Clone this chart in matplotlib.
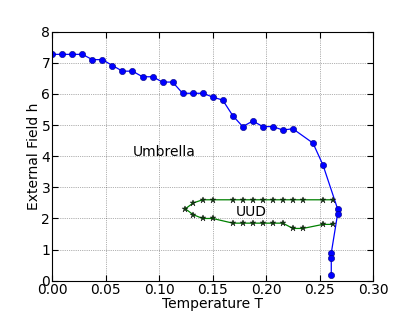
import numpy as np
import matplotlib
matplotlib.use('Agg')
import matplotlib.pyplot as plt

# phase boundary (blue)
T_boundary = [0.0, 0.0094, 0.0188, 0.0281, 0.0375, 0.0469, 0.0563, 0.0656,
              0.075, 0.0844, 0.0938, 0.1031, 0.1125, 0.1219, 0.1313, 0.1406,
              0.15, 0.1594, 0.1688, 0.1781, 0.1875, 0.1969, 0.2063, 0.2156,
              0.225, 0.2438, 0.2531, 0.2668, 0.2668, 0.2609, 0.2609, 0.2609]
h_boundary = [7.27, 7.27, 7.27, 7.27, 7.10, 7.10, 6.91, 6.73,
              6.73, 6.55, 6.55, 6.38, 6.38, 6.02, 6.02, 6.02,
              5.90, 5.80, 5.30, 4.95, 5.13, 4.95, 4.95, 4.84,
              4.88, 4.42, 3.72, 2.31, 2.14, 0.89, 0.72, 0.18]

# UUD region (green), upper branch right->left, tip, lower branch left->right
T_uud = [0.2625, 0.2531, 0.2344, 0.225, 0.2156, 0.2063, 0.1969, 0.1875,
         0.1781, 0.1688, 0.15, 0.1406, 0.1319, 0.1244, 0.1319, 0.1406,
         0.15, 0.1688, 0.1781, 0.1875, 0.1969, 0.2063, 0.2156, 0.225,
         0.2344, 0.2531, 0.2625]
h_uud = [2.60, 2.60, 2.60, 2.60, 2.60, 2.60, 2.60, 2.60,
         2.60, 2.60, 2.60, 2.60, 2.50, 2.31, 2.12, 2.00,
         2.00, 1.85, 1.85, 1.85, 1.85, 1.85, 1.85, 1.68,
         1.68, 1.81, 1.81]

fig = plt.figure(figsize=(4.15, 3.13), dpi=100)
ax = fig.add_axes([0.126, 0.103, 0.773, 0.796])

ax.plot(T_boundary, h_boundary, '-o', color='blue', lw=0.9,
        markersize=4.5, markeredgecolor='#000080', markeredgewidth=0.4)
ax.plot(T_uud, h_uud, '-*', color='green', lw=0.9,
        markersize=4.5, markerfacecolor='#104010', markeredgecolor='black',
        markeredgewidth=0.3)

ax.text(0.105, 4.13, 'Umbrella', fontsize=10, ha='center', va='center')
ax.text(0.186, 2.22, 'UUD', fontsize=10, ha='center', va='center')

ax.set_xlim(0, 0.30)
ax.set_ylim(0, 8)
ax.set_xticks(np.arange(0, 0.301, 0.05))
ax.set_xticklabels(['0.00', '0.05', '0.10', '0.15', '0.20', '0.25', '0.30'])
ax.set_yticks(range(0, 9))
ax.grid(True, color='black', linestyle=':', linewidth=0.5, alpha=0.6)
ax.tick_params(direction='in', top=True, right=True, labelsize=10, length=4, pad=1.5)
ax.set_xlabel('Temperature T', fontsize=10, labelpad=0)
ax.set_ylabel('External Field h', fontsize=10, labelpad=0)

fig.savefig('out.png', dpi=100)
